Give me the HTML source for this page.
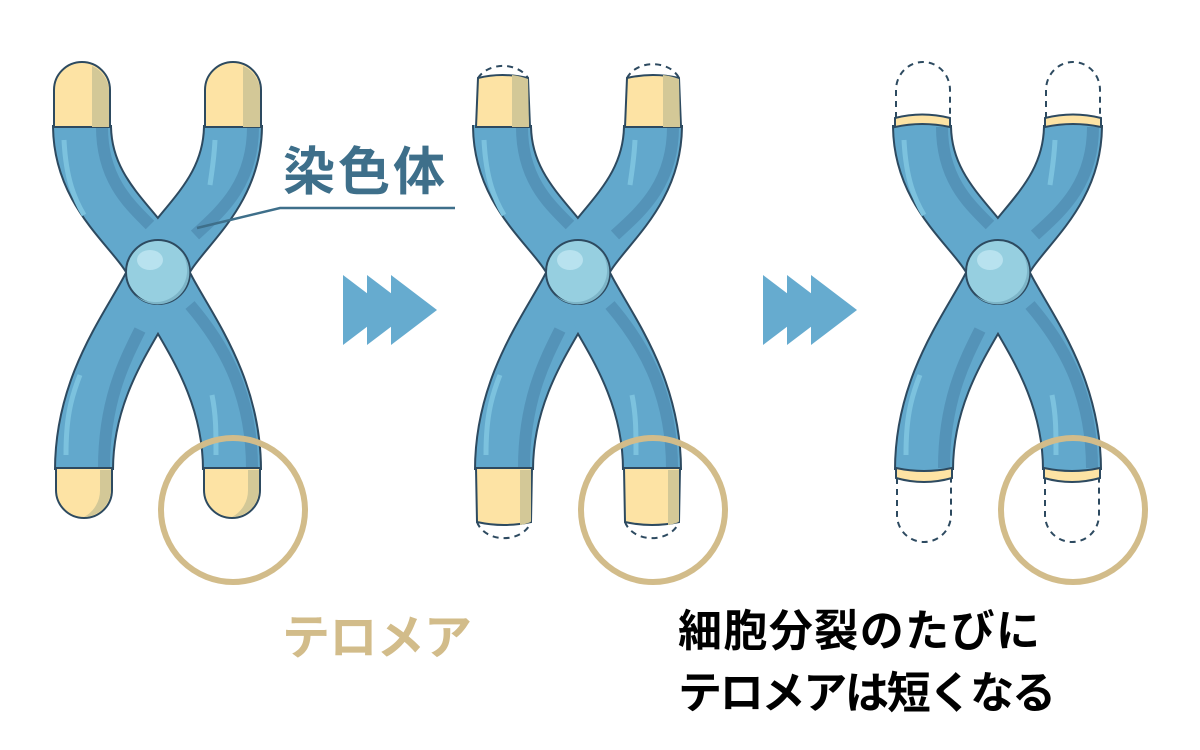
<!DOCTYPE html>
<html><head><meta charset="utf-8"><style>
html,body{margin:0;padding:0;background:#fff;width:1200px;height:750px;overflow:hidden}
svg{display:block}
text{font-family:"Liberation Sans","Noto Sans CJK JP",sans-serif;font-weight:bold}
</style></head><body>
<svg width="1200" height="750" viewBox="0 0 1200 750" xmlns="http://www.w3.org/2000/svg">
<defs>
  <g id="body">
    <g fill="none" stroke="#2d4a60" stroke-width="60" stroke-linecap="butt">
      <path d="M82,125 C82,200 145,232 158,272"/>
      <path d="M233,125 C233,200 171,232 158,272"/>
      <path d="M84,470 C84,375 142,315 158,272"/>
      <path d="M232,470 C232,375 174,315 158,272"/>
    </g>
    <g fill="none" stroke="#62a8cc" stroke-width="56" stroke-linecap="butt">
      <path d="M82,125 C82,200 145,232 158,272"/>
      <path d="M233,125 C233,200 171,232 158,272"/>
      <path d="M84,470 C84,375 142,315 158,272"/>
      <path d="M232,470 C232,375 174,315 158,272"/>
    </g>
    <g fill="none" stroke="#5493b8" stroke-width="12">
      <path d="M102,127 C102,180 130,205 150,225"/>
      <path d="M253,127 C253,185 220,212 195,235"/>
      <path d="M104,468 C104,400 125,360 140,330"/>
      <path d="M252,468 C252,390 220,340 190,305"/>
    </g>
    <g fill="none" stroke="#7cc2de" stroke-width="5">
      <path d="M64,140 C66,180 75,200 84,215"/>
      <path d="M215,140 C214,160 212,170 210,185"/>
      <path d="M66,455 C66,420 70,400 80,375"/>
      <path d="M216,455 C216,430 216,415 212,395"/>
    </g>
    <circle cx="158" cy="272" r="32" fill="#96cfe0" stroke="#2d4a60" stroke-width="2"/>
    <path d="M180,250 A30,30 0 0 1 135,295 A32,32 0 0 0 180,250Z" fill="#7db5c8"/>
    <ellipse cx="150" cy="260" rx="13" ry="10" fill="#b8e2ef"/>
  </g>
</defs>

<g>
  <use href="#body"/>
  <g stroke="#2d4a60" stroke-width="2">
    <path d="M54,127 L54,90 A28,28 0 0 1 110,90 L110,127 Z" fill="#fde3a4"/>
    <path d="M205,127 L205,90 A28,28 0 0 1 261,90 L261,127 Z" fill="#fde3a4"/>
    <path d="M56,468 L56,490 A28,28 0 0 0 112,490 L112,468 Z" fill="#fde3a4"/>
    <path d="M204,468 L204,490 A28,28 0 0 0 260,490 L260,468 Z" fill="#fde3a4"/>
  </g>
  <g fill="#d3c897">
    <path d="M92,127 L92,66 A28,28 0 0 1 109,90 L109,127Z"/>
    <path d="M243,127 L243,66 A28,28 0 0 1 260,90 L260,127Z"/>
    <path d="M111,470 L111,490 A28,28 0 0 1 84,517 A30,30 0 0 0 100,490 L100,470Z"/>
    <path d="M259,470 L259,490 A28,28 0 0 1 232,517 A30,30 0 0 0 248,490 L248,470Z"/>
  </g>
</g>

<g transform="translate(420,0)">
  <use href="#body"/>
  <g stroke="#2d4a60" stroke-width="2">
    <path d="M56,127 L58,78 Q82,72 108,78 L110,127 Z" fill="#fde3a4"/>
    <path d="M205,127 L207,78 Q233,72 259,78 L261,127 Z" fill="#fde3a4"/>
    <path d="M56,468 L57,522 Q84,528 111,522 L112,468 Z" fill="#fde3a4"/>
    <path d="M204,468 L205,522 Q232,528 259,522 L260,468 Z" fill="#fde3a4"/>
  </g>
  <g fill="#d3c897">
    <path d="M92,127 L92,75 Q100,76 108,79 L109,127Z"/>
    <path d="M243,127 L243,75 Q251,76 259,79 L260,127Z"/>
    <path d="M100,470 L100,525 Q106,524 111,522 L111,470Z"/>
    <path d="M248,470 L248,525 Q254,524 259,522 L259,470Z"/>
  </g>
  <g fill="none" stroke="#2d4a60" stroke-width="2" stroke-dasharray="6,5">
    <path d="M58,78 A28,22 0 0 1 108,78"/>
    <path d="M207,78 A28,22 0 0 1 259,78"/>
    <path d="M57,522 A28,22 0 0 0 111,522"/>
    <path d="M205,522 A28,22 0 0 0 259,522"/>
  </g>
</g>

<g transform="translate(840,0)">
  <use href="#body"/>
  <g stroke="#2d4a60" stroke-width="2">
    <path d="M55,127 L55,118 Q82,111 110,118 L110,127 Q82,121 55,127Z" fill="#fde3a4"/>
    <path d="M205,127 L205,118 Q233,111 261,118 L261,127 Q233,121 205,127Z" fill="#fde3a4"/>
    <path d="M56,468 L56,478 Q84,486 112,478 L112,468 Q84,474 56,468Z" fill="#fde3a4"/>
    <path d="M204,468 L204,478 Q232,486 260,478 L260,468 Q232,474 204,468Z" fill="#fde3a4"/>
  </g>
  <g fill="none" stroke="#2d4a60" stroke-width="2" stroke-dasharray="6,5">
    <path d="M56,118 L56,90 A27,28 0 0 1 110,90 L110,118"/>
    <path d="M206,118 L206,90 A27,28 0 0 1 260,90 L260,118"/>
    <path d="M57,478 L57,515 A27,27 0 0 0 111,515 L111,478"/>
    <path d="M205,478 L205,515 A27,27 0 0 0 259,515 L259,478"/>
  </g>
</g>

<g fill="none" stroke="#d2bc8a" stroke-width="6">
  <circle cx="233" cy="510" r="72"/>
  <circle cx="653" cy="510" r="72"/>
  <circle cx="1073" cy="510" r="72"/>
</g>

<g fill="#66abcf">
  <path d="M343,275 L343,345 L389,310Z"/>
  <path d="M367,275 L367,345 L413,310Z"/>
  <path d="M391,275 L391,345 L437,310Z"/>
  <path d="M763,275 L763,345 L809,310Z"/>
  <path d="M787,275 L787,345 L833,310Z"/>
  <path d="M811,275 L811,345 L857,310Z"/>
</g>

<path d="M197,228 L280,208 L455,208" fill="none" stroke="#3e6f8a" stroke-width="2.5"/>
<text x="283" y="190" font-size="52" fill="#3e6f8a" textLength="162">染色体</text>
<text x="282" y="654" font-size="48" fill="#d2bc8a" textLength="190">テロメア</text>
<text x="678" y="646" font-size="44" fill="#000" textLength="362">細胞分裂のたびに</text>
<text x="678" y="708" font-size="44" fill="#000" textLength="378">テロメアは短くなる</text>
</svg>
</body></html>
